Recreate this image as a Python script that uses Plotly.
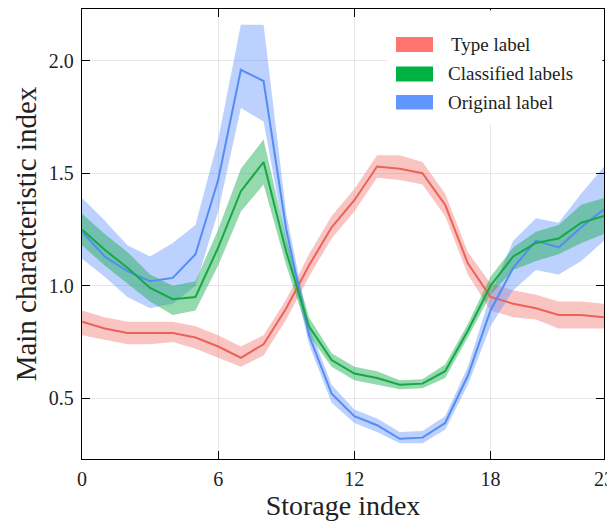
import plotly.graph_objects as go

x_vals = list(range(24))
x_ticks = [0, 6, 12, 18, 23]
y_ticks = [0.5, 1.0, 1.5, 2.0]

series_names = ["Type label", "Classified labels", "Original label"]

red_mean = [0.84, 0.81, 0.79, 0.79, 0.79, 0.77, 0.73, 0.68, 0.74, 0.90, 1.09, 1.26,
            1.38, 1.53, 1.52, 1.50, 1.36, 1.10, 0.95, 0.92, 0.90, 0.87, 0.87, 0.86]
red_upper = [0.89, 0.86, 0.84, 0.84, 0.84, 0.82, 0.78, 0.73, 0.78, 0.94, 1.14, 1.31,
             1.43, 1.58, 1.58, 1.55, 1.41, 1.15, 1.01, 0.98, 0.96, 0.93, 0.93, 0.92]
red_lower = [0.78, 0.76, 0.74, 0.74, 0.75, 0.72, 0.68, 0.64, 0.69, 0.85, 1.04, 1.21,
             1.33, 1.48, 1.47, 1.45, 1.31, 1.05, 0.89, 0.86, 0.85, 0.81, 0.81, 0.81]

green_mean = [1.25, 1.16, 1.08, 0.99, 0.94, 0.95, 1.17, 1.42, 1.55, 1.15, 0.82, 0.67,
              0.61, 0.59, 0.56, 0.565, 0.62, 0.80, 1.00, 1.13, 1.19, 1.21, 1.28, 1.31]
green_upper = [1.32, 1.23, 1.15, 1.05, 1.00, 1.02, 1.25, 1.52, 1.65, 1.21, 0.86, 0.70,
               0.64, 0.62, 0.58, 0.585, 0.65, 0.83, 1.04, 1.17, 1.24, 1.27, 1.36, 1.39]
green_lower = [1.18, 1.09, 1.01, 0.93, 0.87, 0.89, 1.09, 1.33, 1.45, 1.09, 0.78, 0.64,
               0.58, 0.56, 0.54, 0.545, 0.59, 0.77, 0.96, 1.07, 1.11, 1.14, 1.19, 1.23]

blue_mean = [1.24, 1.13, 1.065, 1.02, 1.035, 1.14, 1.47, 1.96, 1.91, 1.25, 0.78, 0.52,
             0.42, 0.38, 0.32, 0.325, 0.39, 0.60, 0.89, 1.08, 1.20, 1.17, 1.26, 1.34]
blue_upper = [1.39, 1.29, 1.18, 1.13, 1.19, 1.27, 1.65, 2.16, 2.16, 1.32, 0.82, 0.56,
              0.45, 0.41, 0.35, 0.355, 0.42, 0.64, 0.96, 1.20, 1.30, 1.28, 1.41, 1.53]
blue_lower = [1.12, 1.04, 0.95, 0.90, 0.92, 1.00, 1.33, 1.79, 1.73, 1.18, 0.74, 0.48,
              0.39, 0.35, 0.30, 0.30, 0.36, 0.56, 0.82, 0.98, 1.07, 1.05, 1.11, 1.20]

styles = {
    "Type label": dict(line="rgb(236,98,88)", fill="rgba(240,110,105,0.40)", swatch="rgb(255,117,112)"),
    "Classified labels": dict(line="rgb(22,168,70)", fill="rgba(20,170,75,0.45)", swatch="rgb(0,178,64)"),
    "Original label": dict(line="rgb(84,140,245)", fill="rgba(95,145,250,0.42)", swatch="rgb(97,150,255)"),
}

data = {
    "Type label": (red_mean, red_lower, red_upper),
    "Classified labels": (green_mean, green_lower, green_upper),
    "Original label": (blue_mean, blue_lower, blue_upper),
}

fig = go.Figure()
draw_order = ["Type label", "Original label", "Classified labels"]
for name in draw_order:
    mean, lower, upper = data[name]
    st = styles[name]
    fig.add_trace(go.Scatter(x=x_vals, y=upper, mode="lines", line=dict(width=0),
                             showlegend=False, hoverinfo="skip"))
    fig.add_trace(go.Scatter(x=x_vals, y=lower, mode="lines", line=dict(width=0),
                             fill="tonexty", fillcolor=st["fill"], name=name,
                             showlegend=False, hoverinfo="skip"))
for name in draw_order:
    mean, lower, upper = data[name]
    st = styles[name]
    fig.add_trace(go.Scatter(x=x_vals, y=mean, mode="lines",
                             line=dict(color=st["line"], width=2),
                             showlegend=False, name=name))

# Legend drawn as a white box with colour swatches and labels (paper coordinates)
fig.add_shape(type="rect", xref="paper", yref="paper", x0=0.584, x1=0.997, y0=0.744, y1=0.997,
              fillcolor="white", line=dict(width=0), layer="above")
legend_rows = [(0.9378, 0.9044, 0.9211, 0.7031),
               (0.8722, 0.8389, 0.8556, 0.6973),
               (0.8089, 0.7767, 0.7933, 0.6973)]
for name, (ytop, ybot, ymid, xtext) in zip(series_names, legend_rows):
    fig.add_shape(type="rect", xref="paper", yref="paper", x0=0.6015, x1=0.6724,
                  y0=ybot, y1=ytop, fillcolor=styles[name]["swatch"], line=dict(width=0),
                  layer="above")
    fig.add_annotation(xref="paper", yref="paper", x=xtext, y=ymid, text=name,
                       showarrow=False, xanchor="left", yanchor="middle",
                       font=dict(family="Liberation Serif", size=19, color="#222"))

axis_common = dict(
    showline=True, linecolor="black", linewidth=1.3, mirror="ticks",
    ticks="inside", ticklen=8, tickwidth=1.3, tickcolor="black",
    showgrid=True, gridcolor="#e6e6e6", gridwidth=1, zeroline=False,
    automargin=False,
    tickfont=dict(family="Liberation Serif", size=20, color="#222"),
)

fig.update_layout(
    width=607, height=517,
    margin=dict(l=74, r=11, t=1, b=66),
    paper_bgcolor="white", plot_bgcolor="white",
    font=dict(family="Liberation Serif", color="#222"),
    showlegend=False,
    xaxis=dict(range=[0, 23], tickvals=x_ticks, ticklabelstandoff=2,
               title=dict(text="Storage index", font=dict(size=28, family="Liberation Serif"), standoff=4),
               **axis_common),
    yaxis=dict(range=[0.23, 2.23], tickvals=y_ticks, tickformat=".1f", ticklabelstandoff=3,
               title=dict(text="Main characteristic index", font=dict(size=29, family="Liberation Serif"), standoff=3),
               **axis_common),
)

fig.write_html("out.html")
